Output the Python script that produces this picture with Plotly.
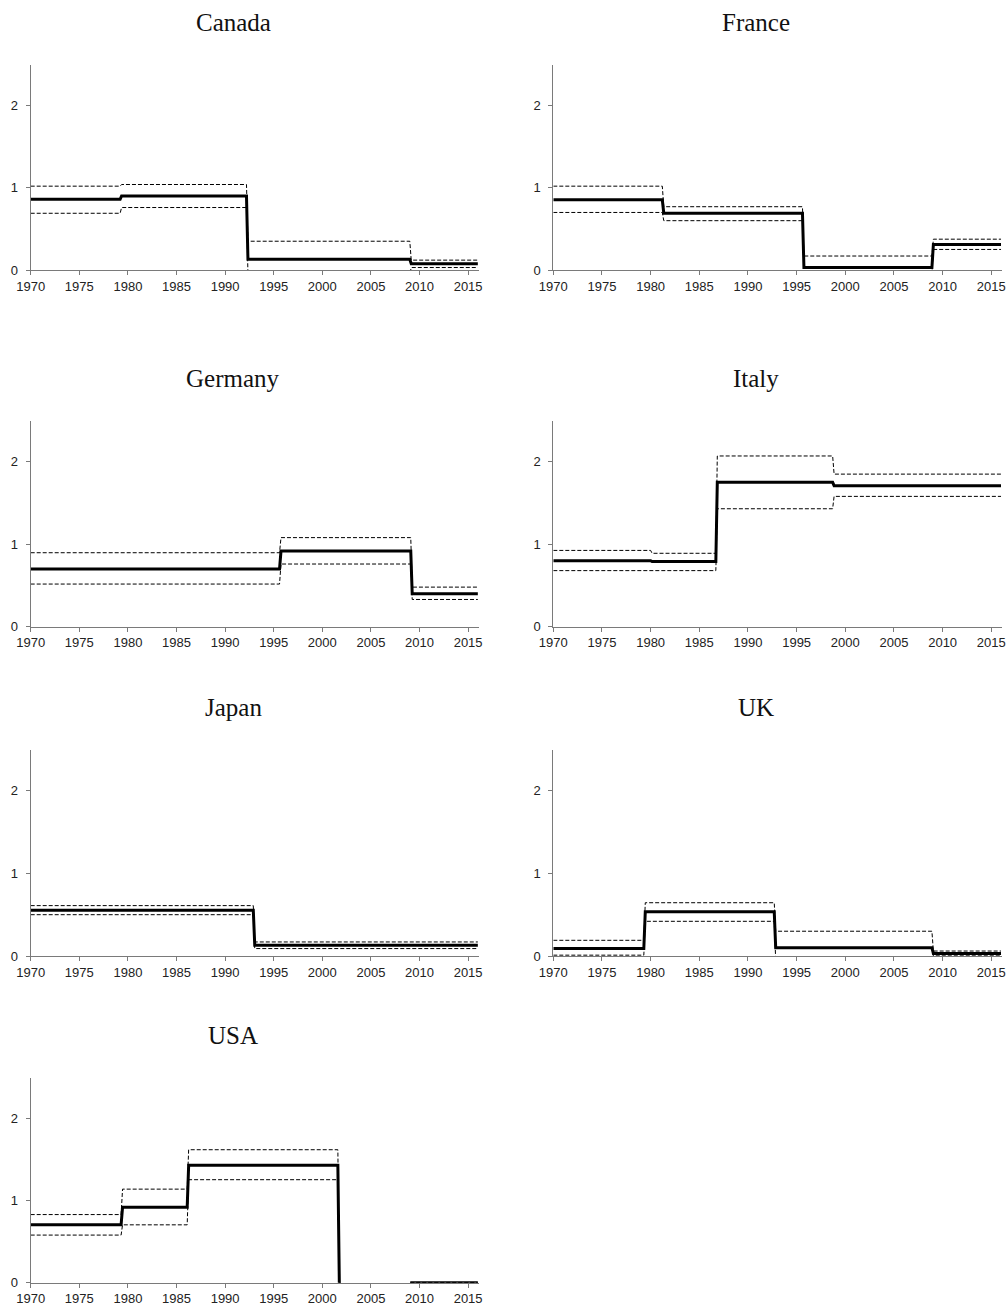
import math
import plotly.graph_objects as go

# ---------------- data ----------------
COUNTRIES = ["Canada", "France", "Germany", "Italy", "Japan", "UK", "USA"]

CANADA_BREAKS = [1970, 1979.2, 1992.2, 2009.0, 2016]
CANADA_EST = [0.86, 0.90, 0.13, 0.075]
CANADA_LO = [0.69, 0.76, -0.05, 0.03]
CANADA_HI = [1.02, 1.04, 0.35, 0.12]

FRANCE_BREAKS = [1970, 1981.2, 1995.6, 2008.9, 2016]
FRANCE_EST = [0.855, 0.69, 0.03, 0.31]
FRANCE_LO = [0.70, 0.60, -0.05, 0.25]
FRANCE_HI = [1.02, 0.77, 0.17, 0.375]

GERMANY_BREAKS = [1970, 1995.6, 2009.1, 2016]
GERMANY_EST = [0.70, 0.917, 0.40]
GERMANY_LO = [0.517, 0.76, 0.33]
GERMANY_HI = [0.897, 1.08, 0.48]

ITALY_BREAKS = [1970, 1980.0, 1986.7, 1998.7, 2016]
ITALY_EST = [0.80, 0.79, 1.75, 1.71]
ITALY_LO = [0.68, 0.68, 1.43, 1.58]
ITALY_HI = [0.925, 0.89, 2.07, 1.85]

JAPAN_BREAKS = [1970, 1992.9, 2016]
JAPAN_EST = [0.554, 0.13]
JAPAN_LO = [0.50, 0.09]
JAPAN_HI = [0.61, 0.17]

UK_BREAKS = [1970, 1979.3, 1992.7, 2008.9, 2016]
UK_EST = [0.09, 0.535, 0.10, 0.03]
UK_LO = [0.01, 0.42, -0.05, 0.01]
UK_HI = [0.19, 0.645, 0.30, 0.06]

USA_BREAKS = [1970, 1979.3, 1986.1, 2001.6, 2001.9, 2008.9, 2016]
USA_EST = [0.705, 0.92, 1.43, 0.0, None, 0.0]
USA_LO = [0.58, 0.705, 1.255, 0.0, None, 0.0]
USA_HI = [0.83, 1.14, 1.62, 0.0, None, 0.0]

DATA = {
    "Canada": (CANADA_BREAKS, CANADA_EST, CANADA_LO, CANADA_HI),
    "France": (FRANCE_BREAKS, FRANCE_EST, FRANCE_LO, FRANCE_HI),
    "Germany": (GERMANY_BREAKS, GERMANY_EST, GERMANY_LO, GERMANY_HI),
    "Italy": (ITALY_BREAKS, ITALY_EST, ITALY_LO, ITALY_HI),
    "Japan": (JAPAN_BREAKS, JAPAN_EST, JAPAN_LO, JAPAN_HI),
    "UK": (UK_BREAKS, UK_EST, UK_LO, UK_HI),
    "USA": (USA_BREAKS, USA_EST, USA_LO, USA_HI),
}

X_TICKS = [1970, 1975, 1980, 1985, 1990, 1995, 2000, 2005, 2010, 2015]
Y_TICKS = [0, 1, 2]

# ---------------- layout geometry (pixels) ----------------
W, H = 1007, 1309
TRANS = 0.15  # width of the transition between regimes (years)
COLS = [(30.7, 478.8), (553.3, 1002.0)]
ROWS = [(64.5, 270.0), (420.5, 626.7), (749.5, 956.0), (1077.5, 1282.7)]
TITLE_X = [233, 756]


def steps(breaks, vals):
    xs, ys = [], []
    for i, v in enumerate(vals):
        y = float("nan") if v is None else v
        x0 = breaks[i] + (TRANS if i > 0 else 0)
        xs += [x0, breaks[i + 1]]
        ys += [y, y]
    return xs, ys


fig = go.Figure()
annotations = []
axis_common = dict(
    showgrid=False, zeroline=False, showline=True, linecolor="#7a7a7a",
    linewidth=1, ticks="outside", ticklen=4, tickcolor="#7a7a7a",
    tickfont=dict(family="Liberation Sans, Arial, sans-serif", size=13, color="#222222"),
    fixedrange=True, automargin=False,
)

for k, name in enumerate(COUNTRIES):
    r, c = divmod(k, 2)
    idx = k + 1
    xa = "x" if idx == 1 else f"x{idx}"
    ya = "y" if idx == 1 else f"y{idx}"
    breaks, est, lo, hi = DATA[name]
    for vals, width, dash in ((lo, 1, "4px,2px"), (hi, 1, "4px,2px"), (est, 3, "solid")):
        xs, ys = steps(breaks, vals)
        fig.add_trace(go.Scatter(
            x=xs, y=ys, mode="lines", xaxis=xa, yaxis=ya,
            line=dict(color="black", width=width, dash=dash),
            showlegend=False, hoverinfo="skip", connectgaps=False,
        ))
    x0, x1 = COLS[c]
    top, bot = ROWS[r]
    fig.layout[("xaxis" if idx == 1 else f"xaxis{idx}")] = dict(
        axis_common, domain=[x0 / W, x1 / W], range=[1970, 2016.1],
        tickvals=X_TICKS, anchor=ya,
    )
    fig.layout[("yaxis" if idx == 1 else f"yaxis{idx}")] = dict(
        axis_common, domain=[1 - bot / H, 1 - top / H], range=[0, 2.5],
        tickvals=Y_TICKS, anchor=xa, ticklabelstandoff=5,
    )
    annotations.append(dict(
        text=name, xref="paper", yref="paper", x=TITLE_X[c] / W,
        y=1 - (top - 42) / H, xanchor="center", yanchor="middle",
        showarrow=False,
        font=dict(family="Liberation Serif, Georgia, serif", size=25, color="#111111"),
    ))

fig.update_layout(
    width=W, height=H, margin=dict(l=0, r=0, t=0, b=0, autoexpand=False),
    paper_bgcolor="white", plot_bgcolor="white", annotations=annotations,
)
fig.write_html(
    "out.html",
    config={"displayModeBar": False, "staticPlot": True},
    post_script="document.body.style.margin='0px';document.body.style.overflow='hidden';",
)
